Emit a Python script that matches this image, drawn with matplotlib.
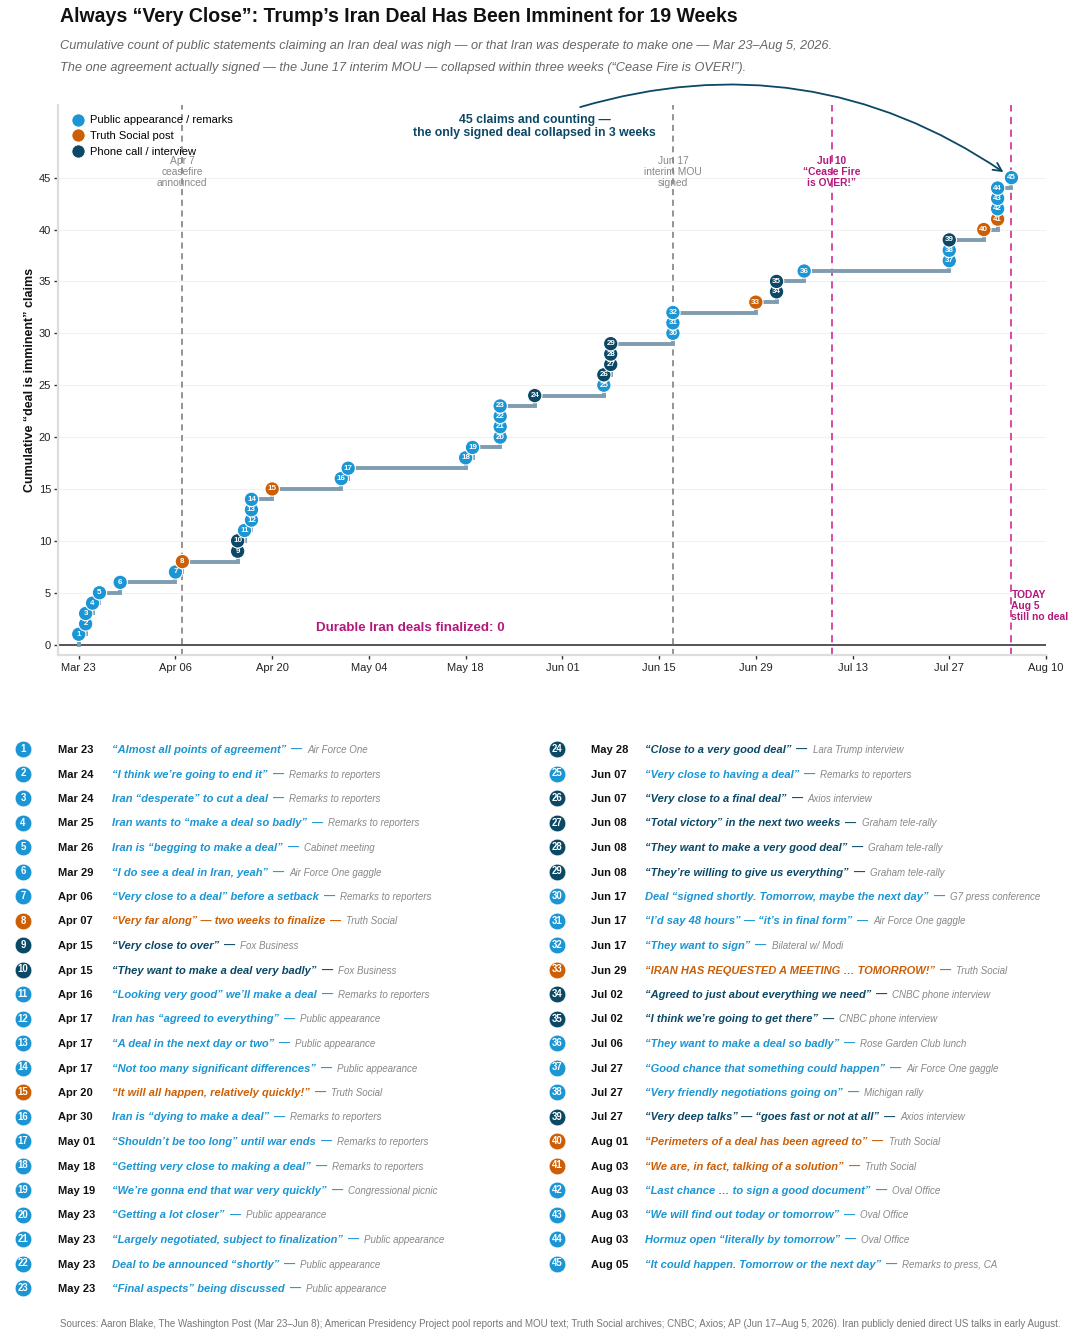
import matplotlib
matplotlib.use("Agg")
import matplotlib.pyplot as plt
from matplotlib.lines import Line2D
from matplotlib import font_manager
from datetime import datetime, timedelta

plt.rcParams['font.family'] = ['Liberation Sans', 'DejaVu Sans']

YEAR = 2026

# ---------------- data ----------------
claim_dates = ["Mar 23", "Mar 24", "Mar 24", "Mar 25", "Mar 26", "Mar 29", "Apr 06", "Apr 07",
               "Apr 15", "Apr 15", "Apr 16", "Apr 17", "Apr 17", "Apr 17", "Apr 20", "Apr 30",
               "May 01", "May 18", "May 19", "May 23", "May 23", "May 23", "May 23", "May 28",
               "Jun 07", "Jun 07", "Jun 08", "Jun 08", "Jun 08", "Jun 17", "Jun 17", "Jun 17",
               "Jun 29", "Jul 02", "Jul 02", "Jul 06", "Jul 27", "Jul 27", "Jul 27", "Aug 01",
               "Aug 03", "Aug 03", "Aug 03", "Aug 03", "Aug 05"]

# P = public appearance / remarks, T = Truth Social post, C = phone call / interview
claim_types = ["P", "P", "P", "P", "P", "P", "P", "T",
               "C", "C", "P", "P", "P", "P", "T", "P",
               "P", "P", "P", "P", "P", "P", "P", "C",
               "P", "C", "C", "C", "C", "P", "P", "P",
               "T", "C", "C", "P", "P", "P", "C", "T",
               "T", "P", "P", "P", "P"]

quotes = [
    "\u201cAlmost all points of agreement\u201d",
    "\u201cI think we\u2019re going to end it\u201d",
    "Iran \u201cdesperate\u201d to cut a deal",
    "Iran wants to \u201cmake a deal so badly\u201d",
    "Iran is \u201cbegging to make a deal\u201d",
    "\u201cI do see a deal in Iran, yeah\u201d",
    "\u201cVery close to a deal\u201d before a setback",
    "\u201cVery far along\u201d \u2014 two weeks to finalize",
    "\u201cVery close to over\u201d",
    "\u201cThey want to make a deal very badly\u201d",
    "\u201cLooking very good\u201d we\u2019ll make a deal",
    "Iran has \u201cagreed to everything\u201d",
    "\u201cA deal in the next day or two\u201d",
    "\u201cNot too many significant differences\u201d",
    "\u201cIt will all happen, relatively quickly!\u201d",
    "Iran is \u201cdying to make a deal\u201d",
    "\u201cShouldn\u2019t be too long\u201d until war ends",
    "\u201cGetting very close to making a deal\u201d",
    "\u201cWe\u2019re gonna end that war very quickly\u201d",
    "\u201cGetting a lot closer\u201d",
    "\u201cLargely negotiated, subject to finalization\u201d",
    "Deal to be announced \u201cshortly\u201d",
    "\u201cFinal aspects\u201d being discussed",
    "\u201cClose to a very good deal\u201d",
    "\u201cVery close to having a deal\u201d",
    "\u201cVery close to a final deal\u201d",
    "\u201cTotal victory\u201d in the next two weeks",
    "\u201cThey want to make a very good deal\u201d",
    "\u201cThey\u2019re willing to give us everything\u201d",
    "Deal \u201csigned shortly. Tomorrow, maybe the next day\u201d",
    "\u201cI\u2019d say 48 hours\u201d \u2014 \u201cit\u2019s in final form\u201d",
    "\u201cThey want to sign\u201d",
    "\u201cIRAN HAS REQUESTED A MEETING \u2026 TOMORROW!\u201d",
    "\u201cAgreed to just about everything we need\u201d",
    "\u201cI think we\u2019re going to get there\u201d",
    "\u201cThey want to make a deal so badly\u201d",
    "\u201cGood chance that something could happen\u201d",
    "\u201cVery friendly negotiations going on\u201d",
    "\u201cVery deep talks\u201d \u2014 \u201cgoes fast or not at all\u201d",
    "\u201cPerimeters of a deal has been agreed to\u201d",
    "\u201cWe are, in fact, talking of a solution\u201d",
    "\u201cLast chance \u2026 to sign a good document\u201d",
    "\u201cWe will find out today or tomorrow\u201d",
    "Hormuz open \u201cliterally by tomorrow\u201d",
    "\u201cIt could happen. Tomorrow or the next day\u201d",
]

sources = ["Air Force One", "Remarks to reporters", "Remarks to reporters", "Remarks to reporters",
           "Cabinet meeting", "Air Force One gaggle", "Remarks to reporters", "Truth Social",
           "Fox Business", "Fox Business", "Remarks to reporters", "Public appearance",
           "Public appearance", "Public appearance", "Truth Social", "Remarks to reporters",
           "Remarks to reporters", "Remarks to reporters", "Congressional picnic", "Public appearance",
           "Public appearance", "Public appearance", "Public appearance", "Lara Trump interview",
           "Remarks to reporters", "Axios interview", "Graham tele-rally", "Graham tele-rally",
           "Graham tele-rally", "G7 press conference", "Air Force One gaggle", "Bilateral w/ Modi",
           "Truth Social", "CNBC phone interview", "CNBC phone interview", "Rose Garden Club lunch",
           "Air Force One gaggle", "Michigan rally", "Axios interview", "Truth Social",
           "Truth Social", "Oval Office", "Oval Office", "Oval Office", "Remarks to press, CA"]

type_labels = {"P": "Public appearance / remarks", "T": "Truth Social post", "C": "Phone call / interview"}

event_dates = ["Apr 07", "Jun 17", "Jul 10", "Aug 05"]
event_labels = ["Apr 7\nceasefire\nannounced", "Jun 17\ninterim MOU\nsigned",
                "Jul 10\n\u201cCease Fire\nis OVER!\u201d", "TODAY\nAug 5\nstill no deal"]
durable_deals = 0

x_tick_labels = ["Mar 23", "Apr 06", "Apr 20", "May 04", "May 18", "Jun 01", "Jun 15",
                 "Jun 29", "Jul 13", "Jul 27", "Aug 10"]
y_ticks = [0, 5, 10, 15, 20, 25, 30, 35, 40, 45]

# ---------------- styles ----------------
type_colors = {"P": "#1b95d3", "T": "#cc5f06", "C": "#0b4866"}
NAVY = "#0b4866"
MAG_LINE = "#d63c9e"
MAG_TEXT = "#b3187c"
STEP_COL = "#7f9cb0"


def d(s):
    return datetime.strptime(f"{s} {YEAR}", "%b %d %Y")


dates = [d(s) for s in claim_dates]
counts = list(range(1, len(dates) + 1))
colors = [type_colors[t] for t in claim_types]

W, H = 1080, 1338
fig = plt.figure(figsize=(W / 100, H / 100), dpi=100)
fig.patch.set_facecolor("white")

names = {f.name for f in font_manager.fontManager.ttflist}
narrow = "Liberation Sans Narrow" in names
title_family = ["Liberation Sans Narrow", "Liberation Sans", "DejaVu Sans"] if narrow else ["Liberation Sans", "DejaVu Sans"]

fig.text(60 / W, 1 - 16 / H,
         "Always \u201cVery Close\u201d: Trump\u2019s Iran Deal Has Been Imminent for 19 Weeks",
         fontsize=16.8 if narrow else 14.05, fontweight="bold", color="#111111",
         family=title_family, ha="left", va="center")
sub1 = ("Cumulative count of public statements claiming an Iran deal was nigh \u2014 or that Iran was "
        "desperate to make one \u2014 Mar 23\u2013Aug 5, 2026.")
sub2 = ("The one agreement actually signed \u2014 the June 17 interim MOU \u2014 collapsed within three "
        "weeks (\u201cCease Fire is OVER!\u201d).")
for yy, s in [(46, sub1), (68, sub2)]:
    fig.text(60 / W, 1 - yy / H, s, fontsize=10.9 if narrow else 9.16, fontstyle="italic",
             color="#666666", family=title_family, ha="left", va="center")

# ---------------- chart ----------------
ax = fig.add_axes([58 / W, 1 - 655 / H, (1046 - 58) / W, (655 - 105) / H])
ax.set_xlim(d("Mar 20"), d("Aug 10"))
ax.set_ylim(-1, 52)

for sp in ["top", "right"]:
    ax.spines[sp].set_visible(False)
for sp in ["left", "bottom"]:
    ax.spines[sp].set_color("#dddddd")
    ax.spines[sp].set_linewidth(1.6)

ax.set_yticks(y_ticks)
ax.set_xticks([d(s) for s in x_tick_labels])
ax.set_xticklabels(x_tick_labels)
ax.tick_params(axis="both", labelsize=8, colors="#333333", length=3, width=1)
ax.tick_params(axis="y", pad=2)
ax.tick_params(axis="x", pad=3)
ax.tick_params(axis="both", labelcolor="#222222")
ax.grid(axis="y", color="#f1f1f1", lw=0.8, zorder=0)
ax.set_axisbelow(True)
ax.set_ylabel("Cumulative \u201cdeal is imminent\u201d claims", fontsize=9, fontweight="bold",
              color="#111111", labelpad=2)

ax.axhline(0, color="#555555", lw=1.4, zorder=1)

# event lines
ev = [d(s) for s in event_dates]
for i, (x, lab) in enumerate(zip(ev, event_labels)):
    magenta = i >= 2
    ax.axvline(x, color=MAG_LINE if magenta else "#777777", lw=1.3 if magenta else 1.1,
               ls=(0, (4, 3)), zorder=1)
LS = 1.1
YL = 45.55
ax.text(ev[0], YL, event_labels[0], ha="center", va="center", fontsize=7.4, color="#888888",
        linespacing=LS, zorder=2)
ax.text(ev[1], YL, event_labels[1], ha="center", va="center", fontsize=7.4, color="#888888",
        linespacing=LS, zorder=2)
ax.text(ev[2], YL, event_labels[2], ha="center", va="center", fontsize=7.4, color=MAG_TEXT,
        fontweight="bold", linespacing=LS, zorder=2)
ax.text(ev[3], 3.75, event_labels[3], ha="left", va="center", fontsize=7.4, color=MAG_TEXT,
        fontweight="bold", linespacing=LS, zorder=2, clip_on=False)

ax.text(d("May 10"), 1.6, f"Durable Iran deals finalized: {durable_deals}", ha="center", va="center",
        fontsize=9.6, fontweight="bold", color=MAG_TEXT)

# step line
ax.plot([dates[0]] + dates, [0] + counts, drawstyle="steps-post", color=STEP_COL, lw=2.8,
        zorder=3, solid_joinstyle="miter")
ax.scatter(dates, counts, s=108, c=colors, edgecolors="white", linewidths=0.8, zorder=4)
for x, k in zip(dates, counts):
    ax.text(x, k, str(k), ha="center", va="center", fontsize=5.8, fontweight="bold",
            color="white", zorder=5)

# annotation
ax.text(d("May 28"), 49.9, "45 claims and counting \u2014\nthe only signed deal collapsed in 3 weeks",
        ha="center", va="center", fontsize=8.8, fontweight="bold", color=NAVY, linespacing=1.1)
ax.annotate("", xy=(dates[-1], counts[-1]), xytext=(d("Jun 03") + timedelta(hours=14), 51.8),
            arrowprops=dict(arrowstyle="->,head_length=0.6,head_width=0.3", color=NAVY, lw=1.3,
                            connectionstyle="arc3,rad=-0.24", shrinkA=0, shrinkB=7),
            annotation_clip=False)

# legend
handles = [Line2D([], [], marker="o", ls="none", markersize=9.5, markerfacecolor=type_colors[t],
                  markeredgecolor="white", markeredgewidth=0.6, label=type_labels[t])
           for t in ["P", "T", "C"]]
ax.legend(handles=handles, loc="upper left", bbox_to_anchor=(0.012, 0.985), frameon=False,
          fontsize=8, handlelength=1.0, handletextpad=0.6, labelspacing=0.5, borderpad=0.2,
          borderaxespad=0)

# ---------------- quote list ----------------
lax = fig.add_axes([0, 0, 1, 1])
lax.set_xlim(0, W)
lax.set_ylim(H, 0)
lax.axis("off")
renderer = fig.canvas.get_renderer()
inv = lax.transData.inverted()


def right_edge(t):
    bb = t.get_window_extent(renderer)
    return inv.transform((bb.x1, bb.y0))[0]


y0, dy = 749, 24.5
n_left = 23
for i, k in enumerate(counts):
    if i < n_left:
        row, xc, xd, xq = i, 23, 58, 112
    else:
        row, xc, xd, xq = i - n_left, 557, 591, 645
    y = y0 + row * dy
    col = colors[i]
    lax.scatter([xc], [y], s=145, c=[col], edgecolors="white", linewidths=0.5, zorder=3)
    lax.text(xc, y, str(k), ha="center", va="center", fontsize=6.9, fontweight="bold",
             color="white", zorder=4)
    yb = y + 4
    lax.text(xd, yb, claim_dates[i], ha="left", va="baseline", fontsize=8, fontweight="bold",
             color="#111111")
    tq = lax.text(xq, yb, quotes[i], ha="left", va="baseline", fontsize=8, fontweight="bold",
                  fontstyle="italic", color=col)
    x1 = right_edge(tq) + 5
    tdash = lax.text(x1, yb, "\u2014", ha="left", va="baseline", fontsize=8, fontweight="bold",
                     color=col)
    x2 = right_edge(tdash) + 5
    lax.text(x2, yb, sources[i], ha="left", va="baseline", fontsize=7, fontstyle="italic",
             color="#888888")

fig.text(60 / W, 1 - 1324 / H,
         "Sources: Aaron Blake, The Washington Post (Mar 23\u2013Jun 8); American Presidency Project pool "
         "reports and MOU text; Truth Social archives; CNBC; Axios; AP (Jun 17\u2013Aug 5, 2026). Iran "
         "publicly denied direct US talks in early August.",
         fontsize=7.05, color="#777777", ha="left", va="center")

fig.savefig("out.png", dpi=100, facecolor="white")
